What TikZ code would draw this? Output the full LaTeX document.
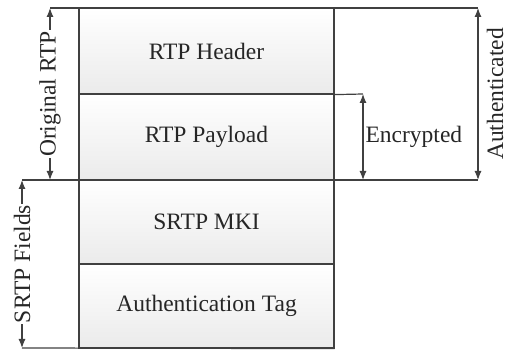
\documentclass[tikz,border=0pt]{standalone}
\usepackage{fontspec}
\setmainfont{Liberation Serif}
\usetikzlibrary{arrows.meta}

\begin{document}
\begin{tikzpicture}[x=1pt, y=1pt, line width=1.2pt,
    every node/.style={font=\fontsize{23.5}{28}\selectfont, text=black!85},
    field/.style={draw=black!75, rectangle, minimum width=255pt, inner sep=0pt,
        top color=white, bottom color=white!92!black},
    rule/.style={draw=black!75},
    dimline/.style={draw=black!75, {Latex[length=9pt,width=7pt]}-{Latex[length=9pt,width=7pt]}},
    dimlabel/.style={fill=white, inner sep=1pt}]
    \useasboundingbox (0,0) rectangle (507,351);

    % the four fields of the packet
    \node[field, minimum height=86pt] (hdr) at (206.5, 300) {RTP Header};
    \node[field, minimum height=86pt] (pay) at (206.5, 214) {RTP Payload};
    \node[field, minimum height=84pt] (mki) at (206.5, 129) {SRTP MKI};
    \node[field, minimum height=84pt] (tag) at (206.5, 45) {Authentication Tag};

    % ends of the extension lines
    \coordinate (otop) at (50, 343);
    \coordinate (obot) at (50, 171);
    \coordinate (stop) at (22, 171);
    \coordinate (sbot) at (22, 3);
    \coordinate (etop) at (363, 257);
    \coordinate (ebot) at (363, 171);
    \coordinate (atop) at (478, 343);
    \coordinate (abot) at (478, 171);

    \draw[rule] (otop) -- (atop);
    \draw[rule] (stop) -- (abot);
    \draw[rule] (hdr.south east) -- (etop);
    \draw[rule] (sbot) -- (tag.south east);

    % dimension arrows
    \draw[dimline] (otop) -- node[dimlabel, rotate=90] {Original RTP} (obot);
    \draw[dimline] (stop) -- node[dimlabel, rotate=90] {SRTP Fields} (sbot);
    \draw[dimline] (etop) -- node[right, inner sep=2pt] (enc) {Encrypted} (ebot);
    \draw[dimline] (atop) -- (abot);
    \node[rotate=90, anchor=base] (auth) at (503, 257) {Authenticated};
\end{tikzpicture}
\end{document}
